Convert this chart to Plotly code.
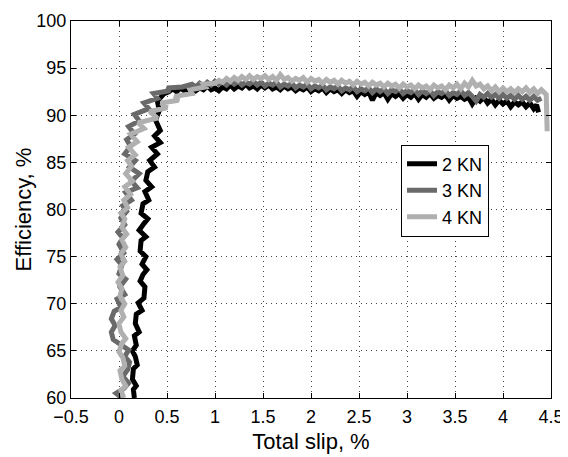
import plotly.graph_objects as go

# ---- data ----
series_names = ["2 KN", "3 KN", "4 KN"]

slip_2kn = [0.16, 0.15, 0.18, 0.14, 0.15, 0.19, 0.17, 0.14, 0.18, 0.16, 0.21, 0.17, 0.18, 0.24, 0.20, 0.26,
            0.27, 0.22, 0.25, 0.29, 0.24, 0.28, 0.22, 0.23, 0.28, 0.21, 0.26, 0.30, 0.23, 0.25, 0.31, 0.27,
            0.34, 0.28, 0.30, 0.37, 0.32, 0.40, 0.34, 0.43, 0.37, 0.43, 0.38, 0.42, 0.40, 0.47,
            0.52, 0.56, 0.60, 0.64, 0.68, 0.72, 0.76, 0.80, 0.84, 0.88, 0.92, 0.96, 1.00, 1.04, 1.08, 1.12,
            1.16, 1.20, 1.24, 1.28, 1.32, 1.36, 1.40, 1.44, 1.48, 1.52, 1.56, 1.60, 1.64, 1.68, 1.72, 1.76,
            1.80, 1.84, 1.88, 1.92, 1.96, 2.00, 2.04, 2.08, 2.12, 2.16, 2.20, 2.24, 2.28, 2.32, 2.36, 2.40,
            2.44, 2.48, 2.52, 2.56, 2.60, 2.64, 2.68, 2.72, 2.76, 2.80, 2.84, 2.88, 2.92, 2.96, 3.00, 3.04,
            3.08, 3.12, 3.16, 3.20, 3.24, 3.28, 3.32, 3.36, 3.40, 3.44, 3.48, 3.52, 3.56, 3.60, 3.64, 3.68,
            3.72, 3.76, 3.80, 3.84, 3.88, 3.92, 3.96, 4.00, 4.04, 4.08, 4.12, 4.16, 4.20, 4.24, 4.28, 4.32,
            4.35, 4.37]
eff_2kn = [60.0, 60.9, 61.3, 62.0, 63.1, 63.5, 64.4, 65.0, 65.6, 66.6, 67.0, 67.9, 68.9, 69.3, 70.1, 70.6,
           71.8, 72.4, 73.1, 73.6, 74.2, 75.0, 75.6, 76.7, 77.1, 77.8, 78.5, 79.0, 79.6, 80.6, 81.0, 81.9,
           82.4, 83.1, 84.0, 84.5, 85.2, 85.9, 86.6, 87.1, 87.8, 88.4, 89.5, 90.5, 91.5, 92.3,
           92.5, 92.8, 92.5, 92.9, 92.6, 92.7, 93.0, 92.6, 92.9, 92.7, 93.1, 92.7, 92.9, 92.6, 93.0, 92.8,
           93.2, 92.8, 93.1, 92.9, 93.3, 92.9, 93.1, 92.8, 93.2, 92.9, 93.2, 92.8, 93.0, 92.7, 93.1, 92.8,
           93.0, 92.6, 92.9, 92.7, 93.0, 92.5, 92.8, 92.6, 92.9, 92.4, 92.8, 92.5, 92.7, 92.3, 92.7, 92.4,
           92.6, 92.0, 92.5, 92.2, 92.5, 91.6, 92.4, 92.1, 92.4, 91.7, 92.3, 92.0, 92.3, 91.8, 92.2, 91.9,
           92.3, 91.7, 92.2, 91.9, 92.3, 91.8, 92.1, 91.9, 92.2, 91.6, 92.1, 91.8, 92.0, 91.7, 91.9, 91.2,
           91.8, 91.5, 91.9, 91.3, 91.7, 91.1, 91.6, 91.2, 91.5, 90.9, 91.4, 91.1, 91.4, 90.9, 91.3, 90.7,
           91.1, 90.3]

slip_3kn = [0.03, -0.03, 0.05, 0.10, 0.04, 0.09, 0.11, 0.06, 0.10, 0.02, -0.06, -0.08, -0.04, -0.08, -0.05, 0.02,
            -0.02, 0.06, 0.01, 0.07, 0.00, 0.03, -0.02, 0.05, 0.00, 0.04, -0.01, 0.06, 0.02, 0.08, 0.04, 0.13,
            0.07, 0.19, 0.13, 0.21, 0.11, 0.17, 0.06, 0.12, 0.08, 0.16, 0.10, 0.21, 0.16, 0.31, 0.26, 0.40,
            0.36, 0.53, 0.50, 0.66,
            0.72, 0.76, 0.80, 0.84, 0.88, 0.92, 0.96, 1.00, 1.04, 1.08, 1.12, 1.16, 1.20, 1.24, 1.28, 1.32,
            1.36, 1.40, 1.44, 1.48, 1.52, 1.56, 1.60, 1.64, 1.68, 1.72, 1.76, 1.80, 1.84, 1.88, 1.92, 1.96,
            2.00, 2.04, 2.08, 2.12, 2.16, 2.20, 2.24, 2.28, 2.32, 2.36, 2.40, 2.44, 2.48, 2.52, 2.56, 2.60,
            2.64, 2.68, 2.72, 2.76, 2.80, 2.84, 2.88, 2.92, 2.96, 3.00, 3.04, 3.08, 3.12, 3.16, 3.20, 3.24,
            3.28, 3.32, 3.36, 3.40, 3.44, 3.48, 3.52, 3.56, 3.60, 3.64, 3.68, 3.72, 3.76, 3.80, 3.84, 3.88,
            3.92, 3.96, 4.00, 4.04, 4.08, 4.12, 4.16, 4.20, 4.24, 4.28, 4.32, 4.36, 4.40]
eff_3kn = [60.0, 60.5, 61.0, 61.6, 62.3, 63.0, 63.8, 64.4, 65.1, 65.7, 66.2, 67.0, 67.7, 68.4, 69.2, 69.6,
           70.5, 71.0, 71.8, 72.6, 73.2, 74.1, 74.7, 75.4, 76.3, 77.0, 77.6, 78.4, 79.1, 79.8, 80.4, 81.0,
           81.8, 82.3, 83.0, 83.8, 84.5, 85.2, 85.9, 86.7, 87.4, 88.0, 88.8, 89.4, 90.1, 90.7, 91.3, 91.8,
           92.3, 92.6, 92.9, 93.0,
           93.1, 93.3, 93.0, 93.4, 93.1, 93.5, 93.2, 93.6, 93.3, 93.5, 93.2, 93.6, 93.3, 93.6, 93.2, 93.5,
           93.3, 93.6, 93.2, 93.5, 93.1, 93.4, 93.2, 93.5, 93.0, 93.3, 93.1, 93.4, 92.9, 93.2, 93.0, 93.3,
           92.8, 93.1, 92.9, 93.2, 92.7, 93.0, 92.8, 93.1, 92.6, 92.9, 92.7, 93.0, 92.5, 92.8, 92.6, 92.9,
           92.4, 92.8, 92.5, 92.8, 92.3, 92.7, 92.5, 92.8, 92.3, 92.6, 92.4, 92.7, 92.2, 92.6, 92.3, 92.6,
           92.1, 92.5, 92.3, 92.6, 92.1, 92.4, 92.2, 92.6, 92.1, 92.4, 92.0, 91.5, 92.2, 91.9, 92.3, 91.9,
           92.2, 91.8, 92.2, 91.8, 92.1, 91.7, 92.1, 91.7, 92.0, 91.6, 92.0, 91.6, 91.8]

slip_4kn = [0.05, 0.02, 0.07, 0.03, 0.01, 0.06, 0.04, 0.00, 0.03, 0.07, 0.02, 0.00, 0.05, 0.02, 0.06, 0.01,
            0.03, -0.01, 0.04, 0.01, 0.06, 0.02, 0.07, 0.03, 0.08, 0.03, 0.06, 0.02, 0.09, 0.05, 0.12, 0.06,
            0.14, 0.07, 0.13, 0.09, 0.17, 0.10, 0.19, 0.12, 0.26, 0.20, 0.40, 0.32, 0.50, 0.44, 0.62, 0.58,
            0.76, 0.74, 0.90, 0.88,
            1.00, 1.04, 1.08, 1.12, 1.16, 1.20, 1.24, 1.28, 1.32, 1.36, 1.40, 1.44, 1.48, 1.52, 1.56, 1.60,
            1.64, 1.68, 1.72, 1.76, 1.80, 1.84, 1.88, 1.92, 1.96, 2.00, 2.04, 2.08, 2.12, 2.16, 2.20, 2.24,
            2.28, 2.32, 2.36, 2.40, 2.44, 2.48, 2.52, 2.56, 2.60, 2.64, 2.68, 2.72, 2.76, 2.80, 2.84, 2.88,
            2.92, 2.96, 3.00, 3.04, 3.08, 3.12, 3.16, 3.20, 3.24, 3.28, 3.32, 3.36, 3.40, 3.44, 3.48, 3.52,
            3.56, 3.60, 3.64, 3.68, 3.72, 3.76, 3.80, 3.84, 3.88, 3.92, 3.96, 4.00, 4.04, 4.08, 4.12, 4.16,
            4.20, 4.24, 4.28, 4.32, 4.36, 4.40, 4.43, 4.45, 4.46]
eff_4kn = [60.0, 60.8, 61.3, 62.0, 62.9, 63.4, 64.3, 64.9, 65.8, 66.3, 67.0, 67.9, 68.6, 69.3, 70.0, 70.8,
           71.6, 72.3, 73.0, 73.9, 74.5, 75.3, 76.0, 76.8, 77.4, 78.1, 79.0, 79.6, 80.2, 81.0, 81.6, 82.4,
           83.0, 83.8, 84.6, 85.2, 85.8, 86.6, 87.2, 88.0, 88.6, 89.2, 89.7, 90.4, 90.8, 91.3, 91.6, 92.0,
           92.3, 92.7, 93.0, 93.3,
           93.4, 93.7, 93.5, 93.9, 93.6, 94.0, 93.7, 94.1, 93.8, 94.2, 93.8, 94.1, 93.9, 94.2, 93.8, 94.1,
           93.7, 94.3, 93.8, 94.0, 93.6, 93.9, 93.7, 94.0, 93.5, 93.9, 93.6, 93.8, 93.4, 93.8, 93.5, 93.7,
           93.3, 93.7, 93.4, 93.6, 93.2, 93.6, 93.3, 93.5, 93.1, 93.5, 93.2, 93.4, 93.0, 93.4, 93.1, 93.3,
           92.9, 93.3, 93.0, 93.2, 92.8, 93.2, 92.9, 93.1, 92.7, 93.2, 92.9, 93.1, 92.7, 93.2, 92.9, 93.3,
           92.8, 93.4, 93.0, 93.7, 93.1, 93.3, 92.8, 93.1, 92.6, 93.0, 92.5, 92.9, 92.5, 92.8, 92.4, 92.8,
           92.5, 92.9, 92.4, 92.8, 92.3, 92.7, 92.4, 92.2, 88.3]

x_tick_vals = [-0.5, 0, 0.5, 1, 1.5, 2, 2.5, 3, 3.5, 4, 4.5]
x_tick_text = ["\u22120.5", "0", "0.5", "1", "1.5", "2", "2.5", "3", "3.5", "4", "4.5"]
y_tick_vals = [60, 65, 70, 75, 80, 85, 90, 95, 100]
y_tick_text = ["60", "65", "70", "75", "80", "85", "90", "95", "100"]

x_title = "Total slip, %"
y_title = "Efficiency, %"

# ---- figure ----
FONT = "Liberation Sans, Arial, Helvetica, sans-serif"
colors = ["#000000", "#6a6a6a", "#b0b0b0"]

fig = go.Figure()
for name, xs, ys, c in zip(series_names,
                           [slip_2kn, slip_3kn, slip_4kn],
                           [eff_2kn, eff_3kn, eff_4kn],
                           colors):
    fig.add_trace(go.Scatter(x=xs, y=ys, mode="lines", name=name,
                             line=dict(color=c, width=5)))

axis_common = dict(
    showline=True, linecolor="black", linewidth=1, mirror="ticks",
    ticks="inside", ticklen=5, tickcolor="black",
    showgrid=True, gridcolor="#444444", gridwidth=1, griddash="1px,4px",
    zeroline=False, tickfont=dict(family=FONT, size=18, color="black"),
    automargin=False,
)

# page body has an 8px default margin, so the figure is 8px smaller than the window
fig.update_layout(
    width=560, height=449,
    margin=dict(l=63, r=17, t=13, b=59),
    paper_bgcolor="white", plot_bgcolor="white",
    font=dict(family=FONT, color="black"),
    xaxis=dict(range=[-0.5, 4.5], tickmode="array", tickvals=x_tick_vals, ticktext=x_tick_text,
               ticklabelstandoff=2,
               title=dict(text=x_title, font=dict(family=FONT, size=22), standoff=8),
               **axis_common),
    yaxis=dict(range=[60, 100], tickmode="array", tickvals=y_tick_vals, ticktext=y_tick_text,
               **axis_common),
    annotations=[dict(text=y_title, xref="paper", yref="paper", x=0, y=0.5,
                      xanchor="center", yanchor="middle", xshift=-48, textangle=-90,
                      showarrow=False, font=dict(family=FONT, size=22, color="black"))],
    legend=dict(x=0.6875, y=0.672, xanchor="left", yanchor="top",
                bgcolor="white", bordercolor="black", borderwidth=1,
                font=dict(family=FONT, size=18, color="black"),
                tracegroupgap=0, itemwidth=30),
    showlegend=True,
)

fig.write_html("out.html")
